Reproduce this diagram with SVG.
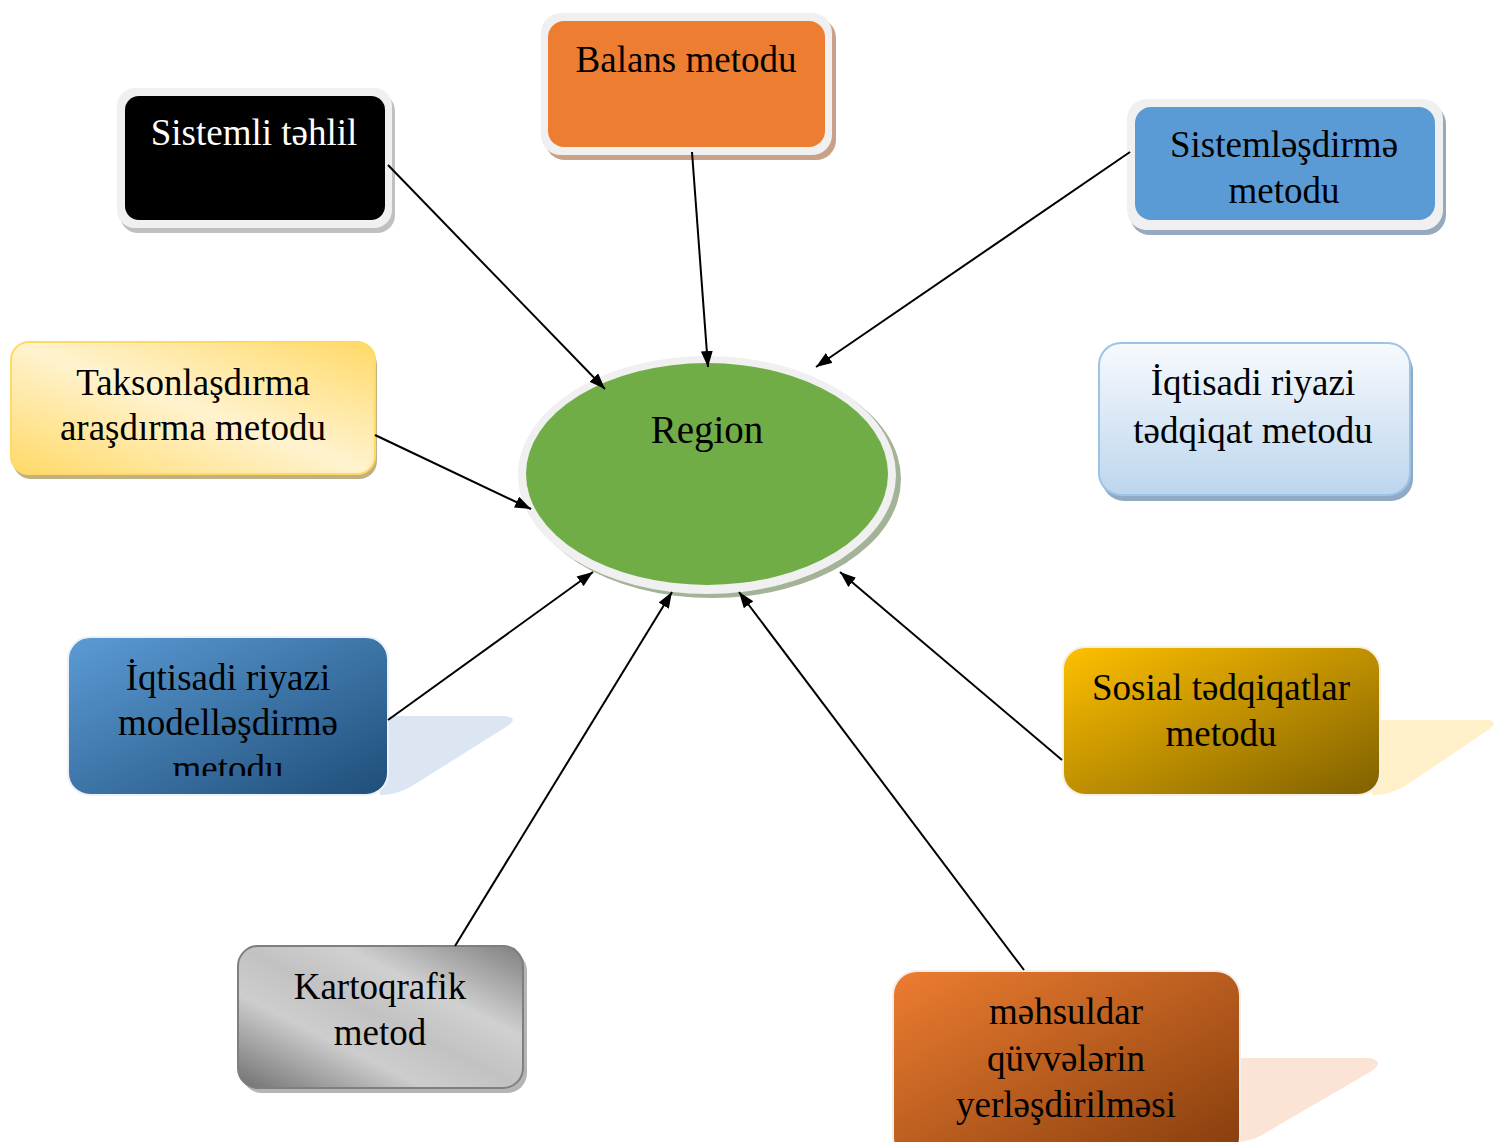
<svg xmlns="http://www.w3.org/2000/svg" width="1495" height="1142" viewBox="0 0 1495 1142">
<style>
.t{font-family:"Liberation Serif","Times New Roman",serif;font-size:37px;text-anchor:middle;fill:#000}
.w{fill:#fff}
.c{stroke:#000;stroke-width:2;fill:none;marker-end:url(#ah)}
</style>
<defs>
<marker id="ah" viewBox="0 0 16 12" refX="16" refY="6" markerWidth="16" markerHeight="12" markerUnits="userSpaceOnUse" orient="auto">
<path d="M0,0 L16,6 L0,12 Z" fill="#000"/>
</marker>
<linearGradient id="gTak" x1="0" y1="1" x2="1" y2="0">
<stop offset="0" stop-color="#ffd966"/><stop offset="0.5" stop-color="#fff3cf"/><stop offset="1" stop-color="#ffd966"/>
</linearGradient>
<linearGradient id="gIqt" x1="0" y1="0" x2="0" y2="1">
<stop offset="0" stop-color="#f7fafd"/><stop offset="1" stop-color="#bcd6ee"/>
</linearGradient>
<linearGradient id="gMod" x1="0" y1="0" x2="1" y2="1">
<stop offset="0" stop-color="#5b9bd5"/><stop offset="1" stop-color="#1f4e79"/>
</linearGradient>
<linearGradient id="gSos" x1="0" y1="0" x2="1" y2="1">
<stop offset="0" stop-color="#ffc000"/><stop offset="1" stop-color="#7f6000"/>
</linearGradient>
<linearGradient id="gMeh" x1="0" y1="0" x2="1" y2="1">
<stop offset="0" stop-color="#ed7d31"/><stop offset="1" stop-color="#843c0c"/>
</linearGradient>
<linearGradient id="gKar" x1="0" y1="1" x2="1" y2="0">
<stop offset="0" stop-color="#707070"/><stop offset="0.33" stop-color="#cdcdcd"/><stop offset="0.5" stop-color="#c2c2c2"/><stop offset="0.68" stop-color="#d0d0d0"/><stop offset="1" stop-color="#7f7f7f"/>
</linearGradient>
<clipPath id="cMod"><rect x="68" y="637" width="320" height="139"/></clipPath>
</defs>

<g id="region">
<ellipse cx="712" cy="479" rx="189" ry="119" fill="#a3b398"/>
<ellipse cx="707" cy="475" rx="189" ry="119" fill="#f0f0f0"/>
<ellipse cx="707" cy="474" rx="181" ry="111" fill="#70ad47"/>
<text class="t" x="707" y="443" style="font-size:39px">Region</text>
</g>

<g id="sistemli">
<rect x="120" y="93" width="275" height="140" rx="18" fill="#c0c0c0"/>
<rect x="117" y="88" width="275" height="140" rx="18" fill="#f0f0f0"/>
<rect x="125" y="96" width="260" height="124" rx="14" fill="#000"/>
<text class="t w" x="254" y="145">Sistemli təhlil</text>
</g>

<g id="balans">
<rect x="545" y="18" width="291" height="142" rx="20" fill="#c9a088"/>
<rect x="541" y="13" width="291" height="142" rx="20" fill="#f0f0f0"/>
<rect x="548" y="21" width="277" height="126" rx="16" fill="#ed7d31"/>
<text class="t" x="686" y="72">Balans metodu</text>
</g>

<g id="sistemlesdirme">
<rect x="1130" y="104" width="316" height="131" rx="20" fill="#97a9bd"/>
<rect x="1127" y="99" width="316" height="131" rx="20" fill="#f0f0f0"/>
<rect x="1135" y="107" width="300" height="113" rx="16" fill="#5b9bd5"/>
<text class="t" x="1284" y="157">Sistemləşdirmə</text>
<text class="t" x="1284" y="203">metodu</text>
</g>

<g id="taksonlasdirma">
<rect x="13" y="347" width="364" height="132" rx="18" fill="#bfb184"/>
<rect x="11" y="342" width="364" height="132" rx="18" fill="url(#gTak)" stroke="#ffd966" stroke-width="2"/>
<text class="t" x="193" y="395">Taksonlaşdırma</text>
<text class="t" x="193" y="440">araşdırma metodu</text>
</g>

<g id="iqtisadi-tedqiqat">
<rect x="1102" y="349" width="311" height="152" rx="22" fill="#8faac4"/>
<rect x="1099" y="343" width="311" height="152" rx="22" fill="url(#gIqt)" stroke="#9dc3e6" stroke-width="2"/>
<text class="t" x="1253" y="395">İqtisadi riyazi</text>
<text class="t" x="1253" y="443">tədqiqat metodu</text>
</g>

<g id="iqtisadi-modellesdirme">
<path d="M380 716 L505 716 Q520 718 506 727 L412 786 Q397 795 380 795 Z" fill="#dce6f2"/>
<rect x="68" y="637" width="320" height="158" rx="22" fill="url(#gMod)" stroke="#edf2f8" stroke-width="2"/>
<g clip-path="url(#cMod)">
<text class="t" x="228" y="690">İqtisadi riyazi</text>
<text class="t" x="228" y="735">modelləşdirmə</text>
<text class="t" x="228" y="781">metodu</text>
</g>
</g>

<g id="sosial">
<path d="M1370 720 L1488 720 Q1500 722 1488 730 L1405 786 Q1390 795 1372 795 Z" fill="#fff0c9"/>
<rect x="1063" y="647" width="317" height="148" rx="22" fill="url(#gSos)" stroke="#f5f0e0" stroke-width="2"/>
<text class="t" x="1221" y="700">Sosial tədqiqatlar</text>
<text class="t" x="1221" y="746">metodu</text>
</g>

<g id="kartoqrafik">
<rect x="242" y="951" width="285" height="142" rx="20" fill="#b5b5b5"/>
<rect x="238" y="946" width="285" height="142" rx="20" fill="url(#gKar)" stroke="#7f7f7f" stroke-width="2"/>
<text class="t" x="380" y="999">Kartoqrafik</text>
<text class="t" x="380" y="1045">metod</text>
</g>

<g id="mehsuldar">
<path d="M1230 1058 L1370 1058 Q1386 1062 1370 1072 L1262 1135 Q1250 1142 1235 1142 Z" fill="#fbe3d5"/>
<rect x="893" y="971" width="347" height="190" rx="24" fill="url(#gMeh)" stroke="#f5ede8" stroke-width="2"/>
<text class="t" x="1066" y="1024">məhsuldar</text>
<text class="t" x="1066" y="1071">qüvvələrin</text>
<text class="t" x="1066" y="1117">yerləşdirilməsi</text>
</g>

<g id="connectors">
<line class="c" x1="388" y1="165" x2="605" y2="389"/>
<line class="c" x1="692" y1="152" x2="708" y2="367"/>
<line class="c" x1="1130" y1="152" x2="816" y2="367"/>
<line class="c" x1="375" y1="435" x2="531" y2="509"/>
<line class="c" x1="388" y1="720" x2="593" y2="572"/>
<line class="c" x1="455" y1="946" x2="672" y2="592"/>
<line class="c" x1="1024" y1="970" x2="739" y2="592"/>
<line class="c" x1="1062" y1="760" x2="840" y2="572"/>
</g>
</svg>
